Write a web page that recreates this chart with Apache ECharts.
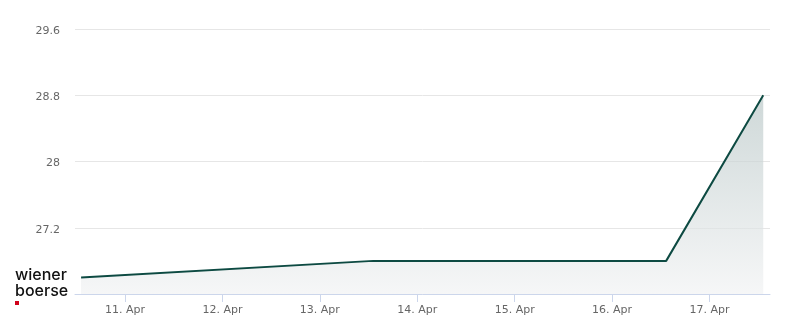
<!DOCTYPE html>
<html>
<head>
<meta charset="utf-8">
<script src="https://cdn.jsdelivr.net/npm/echarts@6/dist/echarts.min.js"></script>
<style>
html,body{margin:0;padding:0;background:#fff;}
#chart{width:800px;height:324px;}
</style>
</head>
<body>
<div id="chart"></div>
<script>
// Data
var times = ['2024-04-10T13:10:00', '2024-04-13T13:10:00', '2024-04-16T13:20:00', '2024-04-17T13:15:00'];
var prices = [26.6, 26.8, 26.8, 28.8];
var yTicks = [26.4, 27.2, 28, 28.8, 29.6];
var xMin = '2024-04-10T11:40:00';
var xMax = '2024-04-17T14:55:00';
var monthNames = ['Jan','Feb','Mar','Apr','May','Jun','Jul','Aug','Sep','Oct','Nov','Dec'];

function toTs(s){ return new Date(s).getTime(); }
var seriesData = times.map(function(t, i){ return [toTs(t), prices[i]]; });

var chart = echarts.init(document.getElementById('chart'), null, {renderer: 'canvas'});
var DAY = 86400000;
chart.setOption({
  animation: false,
  grid: {left: 75, right: 30, top: 29, bottom: 30, containLabel: false},
  xAxis: {
    type: 'time',
    min: toTs(xMin),
    max: toTs(xMax),
    minInterval: DAY,
    maxInterval: DAY,
    axisLine: {show: true, lineStyle: {color: '#ccd6eb', width: 1}},
    axisTick: {show: true, length: 8, lineStyle: {color: '#ccd6eb'}},
    splitLine: {show: false},
    axisLabel: {
      color: '#666666', fontSize: 11, fontFamily: 'DejaVu Sans', margin: 11,
      showMinLabel: false, showMaxLabel: false,
      formatter: function(v){ var d = new Date(v); return d.getDate() + '. ' + monthNames[d.getMonth()]; }
    }
  },
  yAxis: {
    type: 'value',
    min: yTicks[0],
    max: yTicks[yTicks.length - 1],
    interval: 0.8,
    axisLine: {show: false},
    axisTick: {show: false},
    splitLine: {lineStyle: {color: '#e6e6e6', width: 1}},
    axisLabel: {
      margin: 15,
      showMinLabel: false,
      formatter: function(v){ return '{a|' + (Math.round(v * 10) / 10) + '}'; },
      rich: {
        a: {color: '#666666', fontSize: 11, fontFamily: 'DejaVu Sans', padding: [4, 0, 0, 0]}
      }
    }
  },
  series: [{
    type: 'line',
    data: seriesData,
    symbol: 'none',
    lineStyle: {color: '#0d4a42', width: 2},
    areaStyle: {
      color: new echarts.graphic.LinearGradient(0, 0, 0, 1, [
        {offset: 0, color: '#b9c7c7'},
        {offset: 1, color: '#f1f2f3'}
      ])
    }
  }],
  graphic: [
    {type: 'text', left: 15, top: 267, style: {text: 'wiener', font: '500 16px Inter', fill: '#111'}},
    {type: 'text', left: 15, top: 283, style: {text: 'boerse', font: '500 16px Inter', fill: '#111'}},
    {type: 'rect', shape: {x: 15, y: 301, width: 4, height: 4}, style: {fill: '#d0021b'}}
  ]
});
</script>
</body>
</html>
